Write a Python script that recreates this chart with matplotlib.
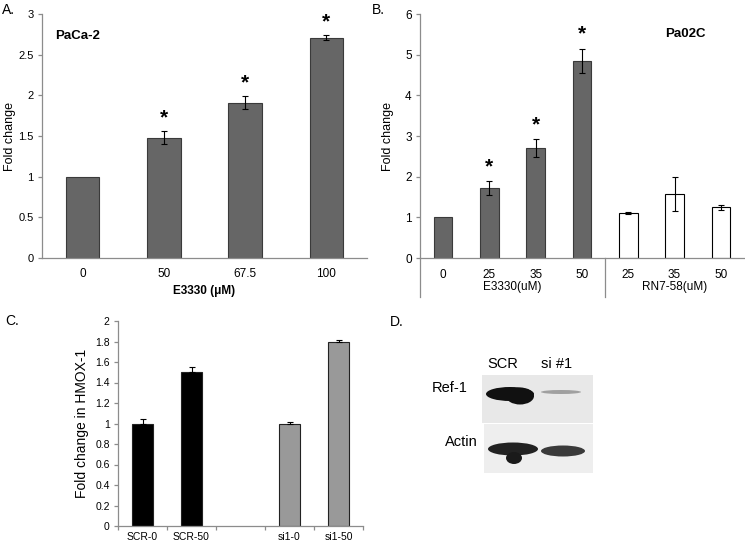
import matplotlib
matplotlib.use("Agg")

import matplotlib.pyplot as plt
import matplotlib.transforms as mtransforms
from matplotlib.patches import Rectangle, Ellipse
import numpy as np

plt.rcParams["font.family"] = ["Liberation Sans", "DejaVu Sans"]
plt.rcParams["font.size"] = 8.5

# panel A
a_labels = ["0", "50", "67.5", "100"]
a_vals = [1.0, 1.48, 1.91, 2.71]
a_err = [0.0, 0.08, 0.08, 0.03]
a_star = [False, True, True, True]

# panel B
b_labels = ["0", "25", "35", "50", "25", "35", "50"]
b_vals = [1.0, 1.72, 2.70, 4.85, 1.11, 1.58, 1.25]
b_err = [0.0, 0.17, 0.22, 0.30, 0.03, 0.42, 0.06]
b_star = [False, True, True, True, False, False, False]
b_groups = ["E3330(uM)", "RN7-58(uM)"]
b_group_size = [4, 3]

# panel C
c_labels = ["SCR-0", "SCR-50", "", "si1-0", "si1-50"]
c_vals = [1.0, 1.5, np.nan, 1.0, 1.8]
c_err = [0.04, 0.05, 0.0, 0.01, 0.01]
c_colors = ["#000000", "#000000", "none", "#999999", "#999999"]

# panel D (blot lanes: SCR, si #1)
d_lanes = ["SCR", "si #1"]
d_rows = ["Ref-1", "Actin"]

AX_GRAY = "#8c8c8c"
BAR_DARK = "#666666"

W, H = 745, 552
fig = plt.figure(figsize=(W / 100, H / 100), dpi=100)


def rect(l, t, r, b):
    return [l / W, 1 - b / H, (r - l) / W, (b - t) / H]


def style(ax, fs):
    for s in ["top", "right"]:
        ax.spines[s].set_visible(False)
    for s in ["left", "bottom"]:
        ax.spines[s].set_color(AX_GRAY)
        ax.spines[s].set_linewidth(0.9)
    ax.tick_params(axis="y", colors=AX_GRAY, labelcolor="black", length=3,
                   width=0.9, labelsize=fs, pad=3)
    ax.tick_params(axis="x", length=0, labelsize=fs, pad=7)


# ---- A ----
axa = fig.add_axes(rect(42, 14, 367, 258))
style(axa, 8.5)
axa.tick_params(axis="y", labelsize=8)
xa = np.arange(len(a_vals))
axa.bar(xa, a_vals, width=0.41, color=BAR_DARK, edgecolor="#3a3a3a", linewidth=0.8)
for x, v, e, s in zip(xa, a_vals, a_err, a_star):
    if e > 0:
        axa.errorbar(x, v, yerr=e, color="black", capsize=2.5, elinewidth=0.8,
                     capthick=0.8)
    if s:
        axa.text(x, v + e + 0.16, "*", ha="center", va="center", fontsize=15,
                 fontweight="bold")
axa.set_xlim(-0.5, len(a_vals) - 0.5)
axa.set_ylim(0, 3)
axa.set_yticks(np.arange(0, 3.01, 0.5))
axa.set_yticklabels(["0", "0.5", "1", "1.5", "2", "2.5", "3"])
axa.set_xticks(xa)
axa.set_xticklabels(a_labels)
axa.set_ylabel("Fold change", fontsize=9, va="center")
axa.yaxis.set_label_coords(-32 / 325, 0.5)
axa.set_xlabel("E3330 (\u03bcM)", fontsize=8.5, fontweight="bold", labelpad=4)
axa.text(0.04, 0.91, "PaCa-2", transform=axa.transAxes, fontsize=9.5,
         fontweight="bold", va="center")
fig.text(2 / W, 1 - 10 / H, "A.", fontsize=10, va="center")

# ---- B ----
axb = fig.add_axes(rect(420, 14, 744, 258))
style(axb, 8.5)
xb = np.arange(len(b_vals))
colors_b = [BAR_DARK] * b_group_size[0] + ["white"] * b_group_size[1]
edges_b = ["#3a3a3a"] * b_group_size[0] + ["black"] * b_group_size[1]
axb.bar(xb, b_vals, width=0.4, color=colors_b, edgecolor=edges_b, linewidth=0.8)
for x, v, e, s in zip(xb, b_vals, b_err, b_star):
    if e > 0:
        axb.errorbar(x, v, yerr=e, color="black", capsize=2.5, elinewidth=0.8,
                     capthick=0.8)
    if s:
        axb.text(x, v + e + 0.35, "*", ha="center", va="center", fontsize=15,
                 fontweight="bold")
axb.set_xlim(-0.5, len(b_vals) - 0.5)
axb.set_ylim(0, 6)
axb.set_yticks(range(0, 7))
axb.set_xticks(xb)
axb.set_xticklabels(b_labels)
axb.tick_params(axis="x", pad=8)
axb.set_ylabel("Fold change", fontsize=9, va="center")
axb.yaxis.set_label_coords(-32 / 324, 0.5)
axb.text(0.82, 0.92, "Pa02C", transform=axb.transAxes, fontsize=9.5,
         fontweight="bold", va="center", ha="center")
trans_b = mtransforms.blended_transform_factory(axb.transData, axb.transAxes)
drop = -39 / 244
start = -0.5
for g, n in zip(b_groups, b_group_size):
    axb.text(start + n / 2, -29 / 244, g, transform=trans_b, ha="center",
             va="center", fontsize=8.5)
    start += n
bound = -0.5
for n in [0] + b_group_size[:-1]:
    bound += n
    axb.plot([bound, bound], [0, drop], transform=trans_b, color=AX_GRAY,
             lw=0.9, clip_on=False)
fig.text(372 / W, 1 - 10 / H, "B.", fontsize=10, va="center")

# ---- C ----
axc = fig.add_axes(rect(118, 321, 363, 526))
style(axc, 7.5)
xc = np.arange(len(c_vals))
axc.bar(xc, c_vals, width=0.41, color=c_colors, edgecolor="#222222", linewidth=0.8)
for x, v, e in zip(xc, c_vals, c_err):
    if not np.isnan(v):
        axc.errorbar(x, v, yerr=[[0], [e]], color="black", capsize=2.5,
                     elinewidth=0.8, capthick=0.8)
axc.set_xlim(-0.5, len(c_vals) - 0.5)
axc.set_ylim(0, 2)
axc.set_yticks(np.arange(0, 2.01, 0.2))
axc.set_yticklabels(["0", "0.2", "0.4", "0.6", "0.8", "1", "1.2", "1.4", "1.6",
                     "1.8", "2"])
axc.set_xticks(xc)
axc.set_xticklabels(c_labels)
axc.tick_params(axis="x", pad=4)
axc.set_xticks(np.arange(-0.5, len(c_vals), 1.0), minor=True)
axc.tick_params(axis="x", which="minor", length=3, color=AX_GRAY, width=0.9)
axc.set_ylabel("Fold change in HMOX-1", fontsize=10, labelpad=4)
fig.text(5 / W, 1 - 321 / H, "C.", fontsize=10, va="center")

# ---- D (western blot sketch) ----
axd = fig.add_axes([370 / W, 0, 375 / W, 252 / H])
axd.set_xlim(370, 745)
axd.set_ylim(552, 300)
axd.axis("off")
fig.text(390 / W, 1 - 322 / H, "D.", fontsize=10, va="center")
axd.add_patch(Rectangle((482, 375), 111, 48, color="#e8e8e8", lw=0))
axd.add_patch(Rectangle((484, 424), 109, 49, color="#eeeeee", lw=0))
# Ref-1 bands
axd.add_patch(Ellipse((510, 394), 48, 14, color="#111111", lw=0))
axd.add_patch(Ellipse((520, 396), 28, 17, color="#111111", lw=0))
axd.add_patch(Ellipse((561, 392), 40, 4, color="#a0a0a0", lw=0))
# Actin bands
axd.add_patch(Ellipse((513, 449), 50, 13, color="#222222", lw=0))
axd.add_patch(Ellipse((514, 458), 16, 12, color="#1a1a1a", lw=0))
axd.add_patch(Ellipse((563, 451), 44, 11, color="#3a3a3a", lw=0))
lane_x = [503, 557]
for lx, name in zip(lane_x, d_lanes):
    axd.text(lx, 364, name, ha="center", va="center", fontsize=10.5)
axd.text(468, 388, d_rows[0], ha="right", va="center", fontsize=10.5)
axd.text(478, 442, d_rows[1], ha="right", va="center", fontsize=10.5)

fig.savefig("out.png", dpi=100)
